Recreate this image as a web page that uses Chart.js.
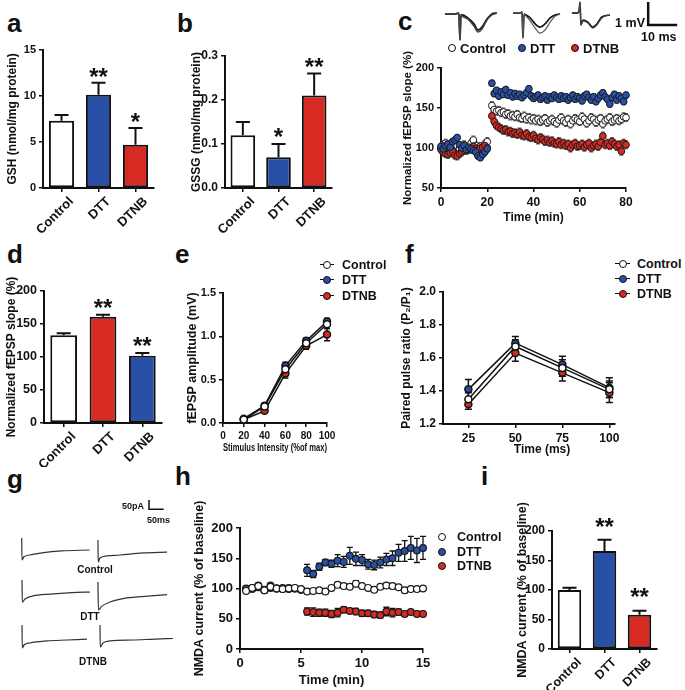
<!DOCTYPE html>
<html>
<head>
<meta charset="utf-8">
<script src="https://cdn.jsdelivr.net/npm/chart.js@4/dist/chart.umd.min.js"></script>
<style>
  html, body { margin: 0; padding: 0; background: #fff; }
  body { position: relative; width: 685px; height: 690px; overflow: hidden;
         font-family: "Liberation Sans", Arial, Helvetica, sans-serif; font-weight: bold; color: #111; }
  canvas { position: absolute; }
  .t { position: absolute; white-space: nowrap; line-height: 1; }
  .lt { font-size: 26px; }
  .mk { position: absolute; box-sizing: border-box; border-radius: 50%; border: 1.5px solid #111; }
  .ln { position: absolute; height: 0; border-top: 1.6px solid #111; }
</style>
</head>
<body>
<div class="t lt" style="left:7px;top:10px">a</div>
<div class="t lt" style="left:177px;top:10px">b</div>
<div class="t lt" style="left:398px;top:8px">c</div>
<div class="t lt" style="left:7px;top:241px">d</div>
<div class="t lt" style="left:175px;top:241px">e</div>
<div class="t lt" style="left:405px;top:241px">f</div>
<div class="t lt" style="left:7px;top:466px">g</div>
<div class="t lt" style="left:175px;top:463px">h</div>
<div class="t lt" style="left:481px;top:463px">i</div>

<script>
const groups = ['Control', 'DTT', 'DTNB'];
const WHITE = '#ffffff', BLUE = '#2a4fa6', RED = '#d62a22', AX = '#111';
const seriesColors = [WHITE, BLUE, RED];

// a: GSH
const gshMean = [7.3, 10.1, 4.7];
const gshErr = [0.6, 1.3, 1.8];
const gshStars = ['', '**', '*'];
// b: GSSG
const gssgMean = [0.12, 0.07, 0.21];
const gssgErr = [0.03, 0.03, 0.05];
const gssgStars = ['', '*', '**'];
// d: LTP summary
const ltpMean = [133, 161, 102];
const ltpErr = [3, 3, 4];
const ltpStars = ['', '**', '**'];
// i: NMDA summary
const nmdaMean = [100, 166, 58];
const nmdaErr = [4, 19, 7];
const nmdaStars = ['', '**', '**'];

// c: fEPSP slope time course (min, %)
const tC = [0,1,2,3,4,5,6,7,8,9,10,11,12,13,14,15,16,17,18,19,20,
  22,23,24,25,26,27,28,29,30,31,32,33,34,35,36,37,38,39,40,41,42,43,44,45,46,47,48,49,50,51,
  52,53,54,55,56,57,58,59,60,61,62,63,64,65,66,67,68,69,70,71,72,73,74,75,76,77,78,79,80];
const ctrlC = [100,104,106,102,98,101,105,103,99,100,104,97,101,106,110,103,98,102,100,105,108,
  153,148,146,147,144,145,142,143,140,141,
  139,142,138,137,140,136,138,135,137,134,
  136,133,135,137,132,134,136,133,131,135,
  138,134,132,136,130,134,137,135,133,139,
  136,131,134,138,136,132,135,137,130,134,
  136,138,133,135,137,134,136,139,138];
const dttC = [102,99,103,105,101,108,110,113,104,100,103,98,101,99,97,95,90,88,92,95,99,
  181,168,172,165,170,167,173,166,169,164,
  168,165,167,163,166,169,174,165,162,164,
  166,161,163,165,160,164,162,166,163,161,
  165,162,164,160,163,166,161,164,162,159,
  165,167,163,160,164,158,162,166,169,164,
  161,155,163,167,160,165,162,158,166];
const dtnbC = [98,95,93,92,94,96,91,90,93,95,97,99,98,100,102,99,97,100,101,103,100,
  140,133,128,126,124,122,123,120,121,118,
  119,117,120,116,115,118,114,113,116,112,
  110,113,111,108,110,107,109,106,105,108,
  104,106,103,105,100,104,106,102,103,105,
  101,104,106,100,103,105,102,107,115,104,
  106,103,108,105,102,104,96,106,104];
const errC = [5, 4, 5];

// e: input-output (% of max, mV)
const xE = [20, 40, 60, 80, 100];
const ctrlE = [0.04, 0.19, 0.62, 0.92, 1.14];
const dttE = [0.05, 0.20, 0.66, 0.95, 1.17];
const dtnbE = [0.04, 0.14, 0.57, 0.89, 1.02];
const ctrlEErr = [0.02, 0.03, 0.05, 0.04, 0.05];
const dttEErr = [0.02, 0.03, 0.04, 0.03, 0.04];
const dtnbEErr = [0.01, 0.02, 0.05, 0.04, 0.07];

// f: paired pulse ratio (ms)
const xF = [25, 50, 75, 100];
const ctrlF = [1.35, 1.67, 1.54, 1.41];
const dttF = [1.41, 1.69, 1.56, 1.42];
const dtnbF = [1.32, 1.63, 1.51, 1.39];
const ctrlFErr = [0.04, 0.04, 0.05, 0.05];
const dttFErr = [0.06, 0.04, 0.05, 0.06];
const dtnbFErr = [0.03, 0.05, 0.05, 0.06];

// h: NMDA current time course (min, % baseline)
const tH = [0.5,1,1.5,2,2.5,3,3.5,4,4.5,5,5.5,6,6.5,7,7.5,8,8.5,9,9.5,10,10.5,11,11.5,12,12.5,13,13.5,14,14.5,15];
const ctrlH = [96,101,104,97,103,100,99,100,101,99,95,96,97,95,101,106,104,103,108,104,101,98,103,105,104,102,97,99,99,100];
const ctrlHErr = [4,3,3,4,3,3,3,3,3,3,4,3,3,4,3,3,3,3,5,4,3,3,3,4,4,3,4,3,3,3];
const dttH = [100,99,102,98,101,100,99,101,100,98,130,124,136,143,141,146,144,154,149,147,140,139,143,148,150,159,162,167,163,167];
const dttHErr = [3,3,3,3,3,3,3,3,3,3,10,6,6,5,6,10,9,14,11,9,8,8,9,10,12,14,17,19,20,19];
const dtnbH = [99,101,105,97,105,100,101,99,100,98,62,61,60,60,58,60,65,63,62,59,59,57,56,62,60,61,58,61,58,58];
const dtnbHErr = [3,3,3,3,3,3,3,3,3,3,6,7,6,6,6,7,5,4,5,5,5,5,5,7,7,5,4,4,4,4];

// c inset: example fEPSP traces (ms, mV), baseline and post
const trCtrlT = [0,3.4,4.8,5.2,5.5,5.9,7.9,10,11.4,12.8,14.5,16.2,17.9];
const trCtrlA = [0,0,0.04,-1.13,-0.04,-0.04,-0.17,-0.43,-0.7,-0.57,-0.22,0,0.04];
const trCtrlB = [0,0,0.04,-1.13,-0.04,-0.09,-0.22,-0.52,-0.78,-0.65,-0.26,-0.04,0.04];
const trDttT = [0,2.4,3.1,3.4,3.8,4.5,5.9,7.6,9.3,11,12.8,14.5,16.2];
const trDttA = [0.04,0.04,0.09,-1.04,0,-0.04,-0.17,-0.43,-0.57,-0.43,-0.17,-0.04,0];
const trDttB = [0.04,0.04,0.09,-1.04,0,-0.09,-0.3,-0.61,-0.83,-0.7,-0.35,-0.09,0];
const trDtnbT = [0,1.7,2.4,2.8,3.1,3.8,5.5,7.2,8.6,10.3,13.1];
const trDtnbA = [0.04,0.04,0.09,0.52,-0.48,-0.26,-0.35,-0.57,-0.43,-0.13,-0.04];
const trDtnbB = [0.04,0.04,0.09,0.5,-0.48,-0.3,-0.39,-0.61,-0.48,-0.17,-0.04];

// g: example NMDA currents (ms, pA)
const gCtrlLT = [0,1,6.8,27,68,136,231],   gCtrlLI = [0,-119,-103,-92,-81,-70,-65];
const gCtrlRT = [0,1,6.8,30.6,74.8,153,235], gCtrlRI = [0,-119,-97,-86,-81,-70,-65];
const gDttLT = [0,1,10.2,37.4,95,170,231],  gDttLI = [0,-119,-103,-86,-76,-68,-65];
const gDttRT = [0,1.7,13.6,40.8,98.6,170,235], gDttRI = [0,-151,-130,-108,-86,-76,-68];
const gDtnbLT = [0,1,6.8,27,85,153,221],   gDtnbLI = [0,-124,-108,-97,-86,-81,-76];
const gDtnbRT = [0,1,10.2,34,112,187,248],  gDtnbRI = [0,-119,-97,-86,-81,-76,-73];

Chart.defaults.font.family = '"Liberation Sans", Arial, Helvetica, sans-serif';
Chart.defaults.font.size = 11;
Chart.defaults.font.weight = 'bold';
Chart.defaults.color = AX;
Chart.defaults.animation = false;
Chart.defaults.responsive = false;
Chart.defaults.events = [];
Chart.defaults.plugins.legend.display = false;
Chart.defaults.plugins.tooltip.enabled = false;

function mk(r) {
  const c = document.createElement('canvas');
  c.width = r[2]; c.height = r[3];
  c.style.left = r[0] + 'px'; c.style.top = r[1] + 'px';
  document.body.appendChild(c);
  return c;
}
function pad(r, p) {
  return { left: 0, top: p[1] - r[1], right: r[0] + r[2] - p[2], bottom: 0 };
}
function pts(xs, ys) { return xs.map((x, i) => ({ x, y: ys[i] })); }

function paintErr(chart, barPass) {
  const ctx = chart.ctx, ys = chart.scales.y;
  const isBar = chart.config.type === 'bar';
  if (isBar !== barPass) return;
  chart.data.datasets.forEach((ds, i) => {
    if (ds.err == null) return;
    const meta = chart.getDatasetMeta(i);
    ctx.save();
    ctx.strokeStyle = ds.errColor || AX;
    ctx.lineWidth = ds.errWidth || 1.5;
    meta.data.forEach((el, j) => {
      const raw = ds.data[j];
      const v = typeof raw === 'object' ? raw.y : raw;
      const e = Array.isArray(ds.err) ? ds.err[j] : ds.err;
      const top = ys.getPixelForValue(v + e);
      const bot = isBar ? el.y : ys.getPixelForValue(v - e);
      const w = ds.cap;
      ctx.beginPath();
      ctx.moveTo(el.x, top); ctx.lineTo(el.x, bot);
      ctx.moveTo(el.x - w, top); ctx.lineTo(el.x + w, top);
      if (!isBar) { ctx.moveTo(el.x - w, bot); ctx.lineTo(el.x + w, bot); }
      ctx.stroke();
      if (ds.stars && ds.stars[j]) {
        ctx.fillStyle = AX;
        ctx.font = 'bold 24px "Liberation Sans", Arial, sans-serif';
        ctx.textAlign = 'center';
        ctx.textBaseline = 'alphabetic';
        ctx.fillText(ds.stars[j], el.x, top - ds.starGap + 13.8);
      }
    });
    ctx.restore();
  });
}
const errorBars = {
  id: 'errorBars',
  beforeDatasetsDraw(chart) { paintErr(chart, false); },
  afterDatasetsDraw(chart) { paintErr(chart, true); }
};

// y axis: o = {title, tsize, tpad, min, max, step, fmt, size}
function yScale(r, p, o) {
  return {
    min: o.min, max: o.max,
    afterFit: s => { s.width = p[0] - r[0]; },
    border: { display: true, color: AX, width: 2 },
    grid: { drawOnChartArea: false, color: AX, lineWidth: 1.5, tickLength: 4 },
    ticks: { stepSize: o.step, padding: 3, color: AX, font: { size: o.size }, callback: o.fmt || (v => v) },
    title: { display: true, text: o.title, color: AX, padding: { top: o.tpad, bottom: 0 },
             font: { size: o.tsize, weight: 'bold' } }
  };
}
// x axis: o = {title, tsize, bpad, min, max, step, size}
function xLinear(r, p, o) {
  return {
    type: 'linear', min: o.min, max: o.max,
    afterFit: s => { s.height = r[1] + r[3] - p[3]; },
    border: { display: true, color: AX, width: 2 },
    grid: { drawOnChartArea: false, color: AX, lineWidth: 1.5, tickLength: 4 },
    ticks: { stepSize: o.step, padding: 3, color: AX, maxRotation: 0, font: { size: o.size } },
    title: { display: !!o.title, text: o.title, color: AX, padding: { top: 0, bottom: o.bpad },
             font: { size: o.tsize, weight: 'bold' } }
  };
}

function barPanel(r, p, o, yo) {
  return new Chart(mk(r), {
    type: 'bar',
    data: { labels: groups, datasets: [{
      data: o.mean, err: o.err, stars: o.stars, starGap: o.gap, cap: o.cap, errWidth: 2,
      backgroundColor: o.colors, borderColor: AX, borderWidth: 2, borderSkipped: false,
      barPercentage: o.bp, categoryPercentage: 1
    }]},
    options: {
      layout: { padding: pad(r, p) },
      scales: {
        x: {
          offset: true,
          afterFit: s => { s.height = r[1] + r[3] - p[3]; },
          border: { display: true, color: AX, width: 2 },
          grid: { offset: false, drawOnChartArea: false, color: AX, lineWidth: 1.5, tickLength: 4 },
          ticks: { autoSkip: false, minRotation: 45, maxRotation: 45, padding: 2, labelOffset: 10,
                   color: AX, font: { size: o.lsize || 13 } }
        },
        y: yScale(r, p, yo)
      }
    },
    plugins: [errorBars]
  });
}

// a
barPanel([0, 40, 165, 198], [43, 48, 154, 188], {
  mean: gshMean, err: gshErr, stars: gshStars, gap: 12, cap: 7, bp: 0.68, colors: [WHITE, BLUE, RED]
}, { title: 'GSH (nmol/mg protein)', tsize: 12, tpad: 5.8, min: 0, max: 15, step: 5, size: 11 });
// b
barPanel([170, 40, 170, 198], [225, 56, 332, 188], {
  mean: gssgMean, err: gssgErr, stars: gssgStars, gap: 12.5, cap: 7, bp: 0.69, colors: [WHITE, BLUE, RED]
}, { title: 'GSSG (nmol/mg protein)', tsize: 12, tpad: 19.8, min: 0, max: 0.3, step: 0.1, size: 12,
     fmt: v => v.toFixed(1) });
// d
barPanel([0, 270, 170, 197], [44, 291, 162, 423], {
  mean: ltpMean, err: ltpErr, stars: ltpStars, gap: 13, cap: 7, bp: 0.68, colors: [WHITE, RED, BLUE]
}, { title: 'Normalized fEPSP slope (%)', tsize: 12, tpad: 4.3, min: 0, max: 200, step: 50, size: 12.5 });
// i
barPanel([505, 495, 180, 195], [552, 531, 657, 649], {
  mean: nmdaMean, err: nmdaErr, stars: nmdaStars, gap: 19, cap: 7, bp: 0.67, colors: [WHITE, BLUE, RED], lsize: 12.5
}, { title: 'NMDA current (% of baseline)', tsize: 12.5, tpad: 10.5, min: 0, max: 200, step: 50, size: 12 });

// c
(function () {
  const r = [395, 40, 290, 190], p = [441, 68, 626, 188];
  const sty = (fill, e) => ({ backgroundColor: fill, borderColor: '#1a1a1a', borderWidth: 1, pointRadius: 3.4,
    err: e, cap: 2, errWidth: 1, errColor: '#555', clip: false });
  new Chart(mk(r), {
    type: 'scatter',
    data: { datasets: [
      Object.assign({ data: pts(tC, dttC) }, sty(BLUE, errC[1])),
      Object.assign({ data: pts(tC, dtnbC) }, sty(RED, errC[2])),
      Object.assign({ data: pts(tC, ctrlC) }, sty(WHITE, errC[0]))
    ]},
    options: {
      layout: { padding: pad(r, p) },
      scales: {
        x: xLinear(r, p, { title: 'Time (min)', tsize: 12, bpad: 4.8, min: 0, max: 80, step: 20, size: 12 }),
        y: yScale(r, p, { title: 'Normalized fEPSP slope (%)', tsize: 11.5, tpad: 6.1, min: 50, max: 200, step: 50, size: 11 })
      }
    },
    plugins: [errorBars]
  });
})();

// e
(function () {
  const r = [178, 270, 165, 188], p = [223, 293, 327, 423];
  const sty = (fill, e) => ({ showLine: true, borderColor: AX, borderWidth: 1.5, pointBackgroundColor: fill,
    pointBorderColor: AX, pointBorderWidth: 1.5, pointRadius: 3.5, err: e, cap: 3, errWidth: 1.5, clip: false });
  new Chart(mk(r), {
    type: 'scatter',
    data: { datasets: [
      Object.assign({ data: pts(xE, ctrlE) }, sty(WHITE, ctrlEErr)),
      Object.assign({ data: pts(xE, dttE) }, sty(BLUE, dttEErr)),
      Object.assign({ data: pts(xE, dtnbE) }, sty(RED, dtnbEErr))
    ]},
    options: {
      layout: { padding: pad(r, p) },
      scales: {
        x: xLinear(r, p, { title: 'Stimulus Intensity (%of max)', tsize: 11, bpad: 3.4, min: 0, max: 100, step: 20, size: 10 }),
        y: yScale(r, p, { title: 'fEPSP amplitude (mV)', tsize: 12.5, tpad: 7.5, min: 0, max: 1.5, step: 0.5, size: 11,
                          fmt: v => v.toFixed(1) })
      }
    },
    plugins: [errorBars]
  });
})();

// f
(function () {
  const r = [390, 270, 240, 188], p = [443, 292, 615, 424];
  const sty = (fill, e) => ({ showLine: true, borderColor: AX, borderWidth: 1.5, pointBackgroundColor: fill,
    pointBorderColor: AX, pointBorderWidth: 1.5, pointRadius: 3.5, err: e, cap: 3.5, errWidth: 1.5, clip: false });
  const x = xLinear(r, p, { title: '', tsize: 12, bpad: 0, min: 11.5, max: 103, step: 25, size: 12 });
  x.afterBuildTicks = s => { s.ticks = xF.map(v => ({ value: v })); };
  new Chart(mk(r), {
    type: 'scatter',
    data: { datasets: [
      Object.assign({ data: pts(xF, ctrlF) }, sty(WHITE, ctrlFErr)),
      Object.assign({ data: pts(xF, dttF) }, sty(BLUE, dttFErr)),
      Object.assign({ data: pts(xF, dtnbF) }, sty(RED, dtnbFErr))
    ]},
    options: {
      layout: { padding: pad(r, p) },
      scales: {
        x: x,
        y: yScale(r, p, { title: 'Paired pulse ratio (P\u2082/P\u2081)', tsize: 12, tpad: 9.3, min: 1.2, max: 2.0, step: 0.2,
                          size: 12, fmt: v => v.toFixed(1) })
      }
    },
    plugins: [errorBars]
  });
})();

// h
(function () {
  const r = [190, 495, 250, 195], p = [240, 528, 423, 649];
  const sty = (fill, e) => ({ backgroundColor: fill, borderColor: '#1a1a1a', borderWidth: 1.2, pointRadius: 3.4,
    err: e, cap: 3, errWidth: 1.3, clip: false });
  new Chart(mk(r), {
    type: 'scatter',
    data: { datasets: [
      Object.assign({ data: pts(tH, ctrlH) }, sty(WHITE, ctrlHErr)),
      Object.assign({ data: pts(tH, dttH) }, sty(BLUE, dttHErr)),
      Object.assign({ data: pts(tH, dtnbH) }, sty(RED, dtnbHErr))
    ]},
    options: {
      layout: { padding: pad(r, p) },
      scales: {
        x: xLinear(r, p, { title: 'Time (min)', tsize: 13, bpad: 1.5, min: 0, max: 15, step: 5, size: 13 }),
        y: yScale(r, p, { title: 'NMDA current (% of baseline)', tsize: 12.5, tpad: 2.5, min: 0, max: 200, step: 50, size: 13 })
      }
    },
    plugins: [errorBars]
  });
})();

// trace insets (hidden axes, data in ms and mV / pA)
function trace(t, v, dx, dy, width, color) {
  return { data: t.map((x, i) => ({ x: x + dx, y: v[i] + dy })), showLine: true, pointRadius: 0,
    borderColor: color, borderWidth: width, cubicInterpolationMode: 'monotone', clip: false };
}
function traceChart(r, sets, xr, yr) {
  new Chart(mk(r), {
    type: 'scatter',
    data: { datasets: sets },
    options: { layout: { padding: 0 },
      scales: { x: { display: false, min: xr[0], max: xr[1] }, y: { display: false, min: yr[0], max: yr[1] } } }
  });
}
const barC = { ms: 10, mV: 1, at: [71.8, -0.48] };
traceChart([440, 0, 245, 46], [
  trace(trCtrlT, trCtrlB, 1.7, 0, 1.5, '#444'),
  trace(trCtrlT, trCtrlA, 1.7, 0, 1.8, '#111'),
  trace(trDttT, trDttB, 25.2, 0, 1.2, '#555'),
  trace(trDttT, trDttA, 25.2, 0, 1.7, '#111'),
  trace(trDtnbT, trDtnbB, 45.5, 0, 1.2, '#444'),
  trace(trDtnbT, trDtnbA, 45.5, 0, 1.6, '#111'),
  { data: [{ x: barC.at[0], y: barC.at[1] + barC.mV }, { x: barC.at[0], y: barC.at[1] },
           { x: barC.at[0] + barC.ms, y: barC.at[1] }],
    showLine: true, pointRadius: 0, borderColor: '#111', borderWidth: 2.5, clip: false }
], [0, 84.5], [-1.39, 0.61]);

const barG = { ms: 50, pA: 50, at: [506.6, -104] };
traceChart([0, 490, 185, 180], [
  trace(gCtrlLT, gCtrlLI, 73.8, -259, 1.2, '#333'),
  trace(gCtrlRT, gCtrlRI, 333, -270, 1.2, '#333'),
  trace(gDttLT, gDttLI, 74.8, -486, 1.2, '#333'),
  trace(gDttRT, gDttRI, 333, -497, 1.2, '#333'),
  trace(gDtnbLT, gDtnbLI, 74.8, -729, 1.2, '#333'),
  trace(gDtnbRT, gDtnbRI, 340, -729, 1.2, '#333'),
  { data: [{ x: barG.at[0], y: barG.at[1] + barG.pA }, { x: barG.at[0], y: barG.at[1] },
           { x: barG.at[0] + barG.ms, y: barG.at[1] }],
    showLine: true, pointRadius: 0, borderColor: '#111', borderWidth: 1.5, clip: false }
], [0, 629], [-972, 0]);

// HTML legends and labels
function txt(s, x, cy, size, align) {
  const d = document.createElement('div');
  d.className = 't';
  d.textContent = s;
  d.style.fontSize = size + 'px';
  d.style.left = x + 'px';
  d.style.top = cy + 'px';
  const tx = align === 'center' ? '-50%' : align === 'right' ? '-100%' : '0';
  d.style.transform = `translate(${tx}, -50%)`;
  document.body.appendChild(d);
}
function dot(cx, cy, d, fill) {
  const e = document.createElement('div');
  e.className = 'mk';
  e.style.cssText = `left:${cx - d / 2}px;top:${cy - d / 2}px;width:${d}px;height:${d}px;background:${fill}`;
  document.body.appendChild(e);
}
function seg(x0, x1, cy) {
  const e = document.createElement('div');
  e.className = 'ln';
  e.style.cssText = `left:${x0}px;top:${cy - 0.8}px;width:${x1 - x0}px`;
  document.body.appendChild(e);
}

// c legend (row)
[[452, 460], [522, 530], [575, 583]].forEach((pos, i) => {
  dot(pos[0], 48, 8, seriesColors[i]);
  txt(groups[i], pos[1], 48, 13, 'left');
});
// e legend
[265, 280, 296].forEach((cy, i) => {
  seg(320, 334, cy); dot(327, cy, 8, seriesColors[i]); txt(groups[i], 342, cy, 12.5, 'left');
});
// f legend
[264, 279, 294].forEach((cy, i) => {
  seg(615, 630, cy); dot(622.5, cy, 8, seriesColors[i]); txt(groups[i], 637, cy, 12.5, 'left');
});
// h legend
[537, 552, 566].forEach((cy, i) => {
  dot(442, cy, 8, seriesColors[i]); txt(groups[i], 457, cy, 12.5, 'left');
});

txt('Time (ms)', 542, 449, 12, 'center');
txt('1 mV', 645, 23, 12.5, 'right');
txt('10 ms', 641, 37, 12.5, 'left');
txt('50pA', 144, 506, 9, 'right');
txt('50ms', 147, 520, 9, 'left');
txt('Control', 95, 570, 10, 'center');
txt('DTT', 90, 617, 10, 'center');
txt('DTNB', 93, 662, 10, 'center');
</script>
</body>
</html>
